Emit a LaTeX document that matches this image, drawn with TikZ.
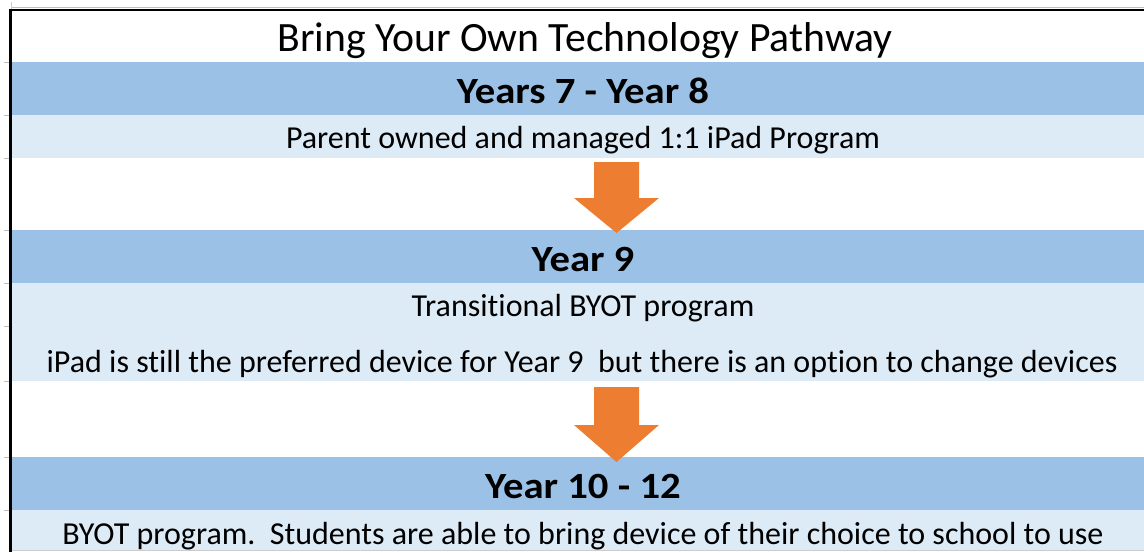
\documentclass[tikz,border=0pt]{standalone}
\usepackage{fontspec}
\setmainfont[Ligatures=NoCommon]{Carlito}
\newfontfamily\hdfont[Ligatures=NoCommon,FakeStretch=1.1]{Carlito}
\definecolor{darkb}{HTML}{9BC2E6}
\definecolor{lightb}{HTML}{DDEBF7}
\definecolor{arrowc}{HTML}{ED7D31}
\begin{document}
\begin{tikzpicture}[x=1pt,y=-1pt,
  band/.style={draw=none,inner sep=0pt,minimum width=1132pt,minimum height=#1,anchor=north west},
  hdband/.style={band=#1,fill=darkb},
  lbband/.style={band=#1,fill=lightb},
  titletxt/.style={anchor=base,inner sep=0pt,font=\fontsize{41.7}{48}\selectfont},
  hdtxt/.style={anchor=base,inner sep=0pt,font=\hdfont\fontsize{37}{42}\selectfont\bfseries},
  bodytxt/.style={anchor=base,inner sep=0pt,font=\fontsize{32}{38}\selectfont},
  tick/.style={draw=gray!50,line width=1pt},
  blockarrow/.style={fill=arrowc,draw=none}]
\useasboundingbox (0,0) rectangle (1144,552);
\fill[white] (0,0) rectangle (1144,552);
% bands
\node[hdband=53pt] (r1) at (12,62) {};
\node[lbband=43pt] (r2) at (12,115) {};
\node[hdband=53pt] (r3) at (12,230) {};
\node[lbband=98pt] (r4) at (12,283) {};
\node[hdband=53pt] (r5) at (12,457) {};
\node[lbband=40pt] (r6) at (12,510) {};
\draw[gray!40,line width=1pt] (r6.south west) -- (r6.south east);
% grid ticks
\foreach \yy in {62,115,158,230,283,326,381,457,510}
  \draw[tick] (4,\yy) -- (9,\yy);
\draw[gray!40,line width=1pt] (11,2) -- (11,9);
\draw[gray!50,line width=0.8pt] (12,7.5) -- (1144,7.5);
% borders
\draw[black,line width=3pt] (10.5,8.5) -- (10.5,552);
\draw[black,line width=2.5pt] (9,9.8) -- (1144,9.8);
% texts
\node[titletxt] (title) at (585,51) {Bring Your Own Technology Pathway};
\node[hdtxt] (h1) at (583,103) {Years 7 - Year 8};
\node[bodytxt] (b1) at (583,148) {Parent owned and managed 1:1 iPad Program};
\node[hdtxt] (h2) at (583,271) {Year 9};
\node[bodytxt] (b2) at (583,316) {Transitional BYOT program};
\node[bodytxt] (b3) at (582,372) {iPad is still the preferred device for Year 9\ \ but there is an option to change devices};
\node[hdtxt] (h3) at (583,498) {Year 10 - 12};
\node[bodytxt] (b4) at (583,544) {BYOT program.\ \ Students are able to bring device of their choice to school to use};
% arrows
\coordinate (a1) at (616.5,162);
\coordinate (a2) at (616.5,387);
\fill[blockarrow] ([xshift=-22.5pt]a1) -- ([xshift=22.5pt]a1) -- ([xshift=22.5pt,yshift=-36pt]a1)
  -- ([xshift=42.5pt,yshift=-36pt]a1) -- ([yshift=-71pt]a1) -- ([xshift=-42.5pt,yshift=-36pt]a1)
  -- ([xshift=-22.5pt,yshift=-36pt]a1) -- cycle;
\fill[blockarrow] ([xshift=-22.5pt]a2) -- ([xshift=22.5pt]a2) -- ([xshift=22.5pt,yshift=-38pt]a2)
  -- ([xshift=42.5pt,yshift=-38pt]a2) -- ([yshift=-75pt]a2) -- ([xshift=-42.5pt,yshift=-38pt]a2)
  -- ([xshift=-22.5pt,yshift=-38pt]a2) -- cycle;
\end{tikzpicture}
\end{document}
